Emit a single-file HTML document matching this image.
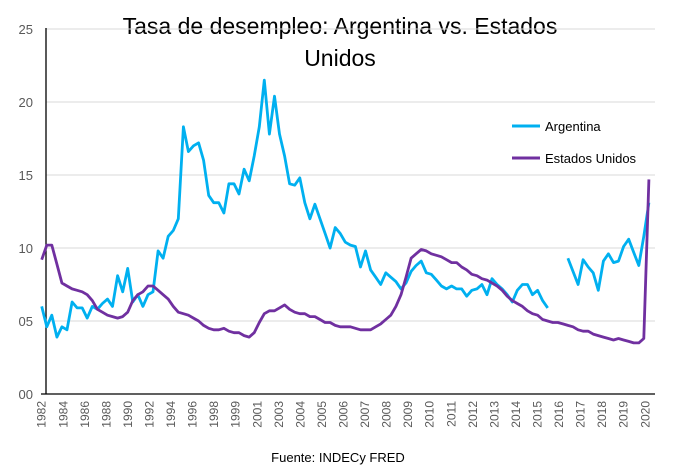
<!DOCTYPE html>
<html><head><meta charset="utf-8"><style>
body{margin:0;background:#fff;}
svg{display:block;font-family:"Liberation Sans",sans-serif;}
</style></head><body>
<svg id="chart" width="689" height="474" viewBox="0 0 689 474">
<text x="340" y="34" text-anchor="middle" font-size="23" fill="#000">Tasa de desempleo: Argentina vs. Estados</text>
<text x="340" y="66" text-anchor="middle" font-size="23" fill="#000">Unidos</text>
<g id="grid"></g>
<g id="yticks"></g>
<g id="xticks"></g>
<g id="series"></g>
<g>
<line x1="512" y1="126" x2="540" y2="126" stroke="#00b0f0" stroke-width="3"/>
<text x="545" y="131" font-size="13" fill="#000">Argentina</text>
<line x1="512" y1="158" x2="540" y2="158" stroke="#7030a0" stroke-width="3"/>
<text x="545" y="163" font-size="13" fill="#000">Estados Unidos</text>
</g>
<text x="338" y="462" text-anchor="middle" font-size="13" fill="#000">Fuente: INDECy FRED</text>
</svg>
<script>
const xLabels = ["1982","1984","1986","1988","1990","1992","1994","1996","1998","1999","2001","2003","2004","2005","2006","2007","2008","2009","2010","2011","2012","2013","2014","2015","2016","2017","2018","2019","2020"];
const yTicks = [0,5,10,15,20,25];
const yTickLabels = ["00","05","10","15","20","25"];
const argentina = [6.0,4.6,5.4,3.9,4.6,4.4,6.3,5.9,5.9,5.2,6.0,5.8,6.2,6.5,6.0,8.1,7.0,8.6,6.3,6.8,6.0,6.8,7.0,9.8,9.3,10.8,11.2,12.0,18.3,16.6,17.0,17.2,16.0,13.6,13.1,13.1,12.4,14.4,14.4,13.7,15.4,14.6,16.3,18.3,21.5,17.8,20.4,17.8,16.3,14.4,14.3,14.8,13.1,12.0,13.0,12.0,11.0,10.0,11.4,11.0,10.4,10.2,10.1,8.7,9.8,8.5,8.0,7.5,8.3,8.0,7.7,7.2,7.6,8.4,8.8,9.1,8.3,8.2,7.8,7.4,7.2,7.4,7.2,7.2,6.7,7.1,7.2,7.5,6.8,7.9,7.5,7.2,6.8,6.3,7.1,7.5,7.5,6.8,7.1,6.4,5.9,null,null,null,9.3,8.4,7.5,9.2,8.7,8.3,7.1,9.1,9.6,9.0,9.1,10.1,10.6,9.7,8.8,10.8,13.1];
const usa = [9.2,10.2,10.2,8.9,7.6,7.4,7.2,7.1,7.0,6.8,6.4,5.8,5.6,5.4,5.3,5.2,5.3,5.6,6.4,6.8,7.0,7.4,7.4,7.1,6.8,6.5,6.0,5.6,5.5,5.4,5.2,5.0,4.7,4.5,4.4,4.4,4.5,4.3,4.2,4.2,4.0,3.9,4.2,4.9,5.5,5.7,5.7,5.9,6.1,5.8,5.6,5.5,5.5,5.3,5.3,5.1,4.9,4.9,4.7,4.6,4.6,4.6,4.5,4.4,4.4,4.4,4.6,4.8,5.1,5.4,6.0,6.8,8.0,9.3,9.6,9.9,9.8,9.6,9.5,9.4,9.2,9.0,9.0,8.7,8.5,8.2,8.1,7.9,7.8,7.6,7.4,7.1,6.7,6.4,6.2,6.0,5.7,5.5,5.4,5.1,5.0,4.9,4.9,4.8,4.7,4.6,4.4,4.3,4.3,4.1,4.0,3.9,3.8,3.7,3.8,3.7,3.6,3.5,3.5,3.8,14.7];

const NS="http://www.w3.org/2000/svg";
const X0=41.7, STEP=5.06, Y0=394, YPX=14.6, LABEL_EVERY=4.26;
const xScale=i=>X0+i*STEP;
const yScale=v=>Y0-v*YPX;
function mk(tag,attrs,parent){const e=document.createElementNS(NS,tag);for(const k in attrs)e.setAttribute(k,attrs[k]);parent.appendChild(e);return e;}

const grid=document.getElementById('grid');
const yt=document.getElementById('yticks');
yTicks.forEach((v,i)=>{
  if(v>0){const g=mk('line',{x1:46,x2:655,y1:yScale(v),y2:yScale(v),stroke:'#d9d9d9','stroke-width':1},grid);
  
  }
  const t=mk('text',{x:33,y:yScale(v)+5,'text-anchor':'end','font-size':13,fill:'#595959'},yt);
  t.textContent=yTickLabels[i];
  
  
});
const ax=mk('line',{x1:46,x2:46,y1:28,y2:Y0,stroke:'#000','stroke-width':1.3},grid);


const bx=mk('line',{x1:41,x2:655,y1:Y0,y2:Y0,stroke:'#000','stroke-width':1.3},grid);



const xt=document.getElementById('xticks');
xLabels.forEach((lab,k)=>{
  const x=xScale(k*LABEL_EVERY)+4;
  const t=mk('text',{x:0,y:0,transform:`translate(${x},401) rotate(-90)`,'text-anchor':'end','font-size':12,fill:'#595959'},xt);
  t.textContent=lab;
  
  
});

function drawSeries(data,color,name){
  let d='',pen=false;
  data.forEach((v,i)=>{
    if(v===null){pen=false;return;}
    d+=(pen?'L':'M')+xScale(i).toFixed(1)+' '+yScale(v).toFixed(1)+' ';pen=true;
  });
  const p=mk('path',{d:d,fill:'none',stroke:color,'stroke-width':2.8,'stroke-linejoin':'round'},document.getElementById('series'));
  
  
}
drawSeries(argentina,'#00b0f0','argentina-line');
drawSeries(usa,'#7030a0','usa-line');
</script>
</body></html>
